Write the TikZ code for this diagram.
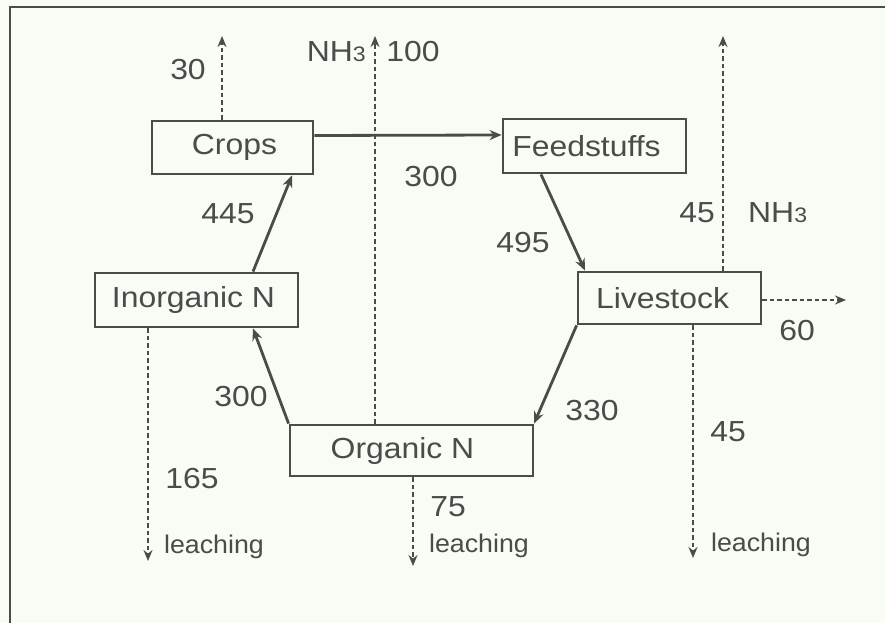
\documentclass[tikz,border=0pt]{standalone}
\usepackage{fontspec}
\setmainfont{Liberation Sans}[FakeStretch=1.1]
\newfontfamily\smallfam{Liberation Sans}[FakeStretch=1.05]
\usetikzlibrary{arrows.meta}
\definecolor{ink}{RGB}{72,76,74}
\definecolor{paper}{RGB}{247,252,244}
\tikzset{
  x=1pt,y=-1pt,
  box/.style={draw=ink,line width=2.8pt,inner sep=0pt,rectangle},
  lbl/.style={text=ink,font=\fontsize{29}{31}\selectfont,inner sep=0pt},
  small/.style={text=ink,font=\smallfam\fontsize{25.5}{27}\selectfont,inner sep=0pt},
  flow/.style={draw=ink,line width=2.8pt,-{Stealth[length=12pt,width=10pt]}},
  loss/.style={draw=ink,line width=2.6pt,dash pattern=on 4.5pt off 3pt,-{Stealth[length=11pt,width=9pt]}},
}
\begin{document}
\begin{tikzpicture}
\useasboundingbox (0,0) rectangle (885,623);
\fill[paper] (0,0) rectangle (885,623);
\draw[ink,line width=2.4pt] (10,623) -- (10,7) -- (885,7);

% boxes
\node[box,minimum width=161pt,minimum height=53pt,label={[lbl,xshift=2pt]center:Crops}] (crops) at (232.5,147.5) {};
\node[box,minimum width=203pt,minimum height=54pt,label={[lbl,xshift=-3pt]center:Inorganic N}] (inorg) at (196.5,300) {};
\node[box,minimum width=183pt,minimum height=54pt,label={[lbl,xshift=-8pt]center:Feedstuffs}] (feed) at (594.5,146) {};
\node[box,minimum width=183pt,minimum height=52pt,label={[lbl,xshift=-7pt]center:Livestock}] (live) at (669.5,298) {};
\node[box,minimum width=243pt,minimum height=51pt,label={[lbl,xshift=-9pt]center:Organic N}] (org) at (411.5,450.5) {};

% end points of loss arrows
\coordinate (up1) at (222,36);
\coordinate (up2) at (375,36);
\coordinate (up3) at (723,36);
\coordinate (right1) at (846,300);
\coordinate (down1) at (148,561);
\coordinate (down2) at (413,566);
\coordinate (down3) at (693,558);

% main flows
\draw[flow] ([yshift=12pt]crops.east) -- ([yshift=11pt]feed.west);
\draw[flow] (253,0 |- inorg.north) -- (292,0 |- crops.south);
\draw[flow] (541,0 |- feed.south) -- (585,0 |- live.north);
\draw[flow] (live.south west) -- (534,0 |- org.north);
\draw[flow] (org.north west) -- (253,0 |- inorg.south);

% losses
\draw[loss] (222,0 |- crops.north) -- (up1);
\draw[loss] (375,0 |- org.north) -- (up2);
\draw[loss] (723,0 |- live.north) -- (up3);
\draw[loss] (live.east |- right1) -- (right1);
\draw[loss] (148,0 |- inorg.south) -- (down1);
\draw[loss] (413,0 |- org.south) -- (down2);
\draw[loss] (693,0 |- live.south) -- (down3);

% labels
\node[lbl] (l30) at (188,70) {30};
\node[lbl,anchor=east] (nh3a) at (366,52) {NH{\fontsize{21}{22}\selectfont 3}};
\node[lbl] (l100) at (413,52) {100};
\node[lbl] (l300a) at (431,177) {300};
\node[lbl] (l445) at (228,214) {445};
\node[lbl] (l495) at (523,243) {495};
\node[lbl] (l45a) at (697,213) {45};
\node[lbl,anchor=west] (nh3b) at (748,213) {NH{\fontsize{21}{22}\selectfont 3}};
\node[lbl] (l60) at (797,331) {60};
\node[lbl] (l300b) at (241,397) {300};
\node[lbl] (l330) at (592,411) {330};
\node[lbl] (l45b) at (728,432) {45};
\node[lbl] (l165) at (192,479) {165};
\node[lbl] (l75) at (448,507) {75};
\node[small] (leach1) at (214,547) {leaching};
\node[small] (leach2) at (479,546) {leaching};
\node[small] (leach3) at (761,545) {leaching};
\end{tikzpicture}
\end{document}
